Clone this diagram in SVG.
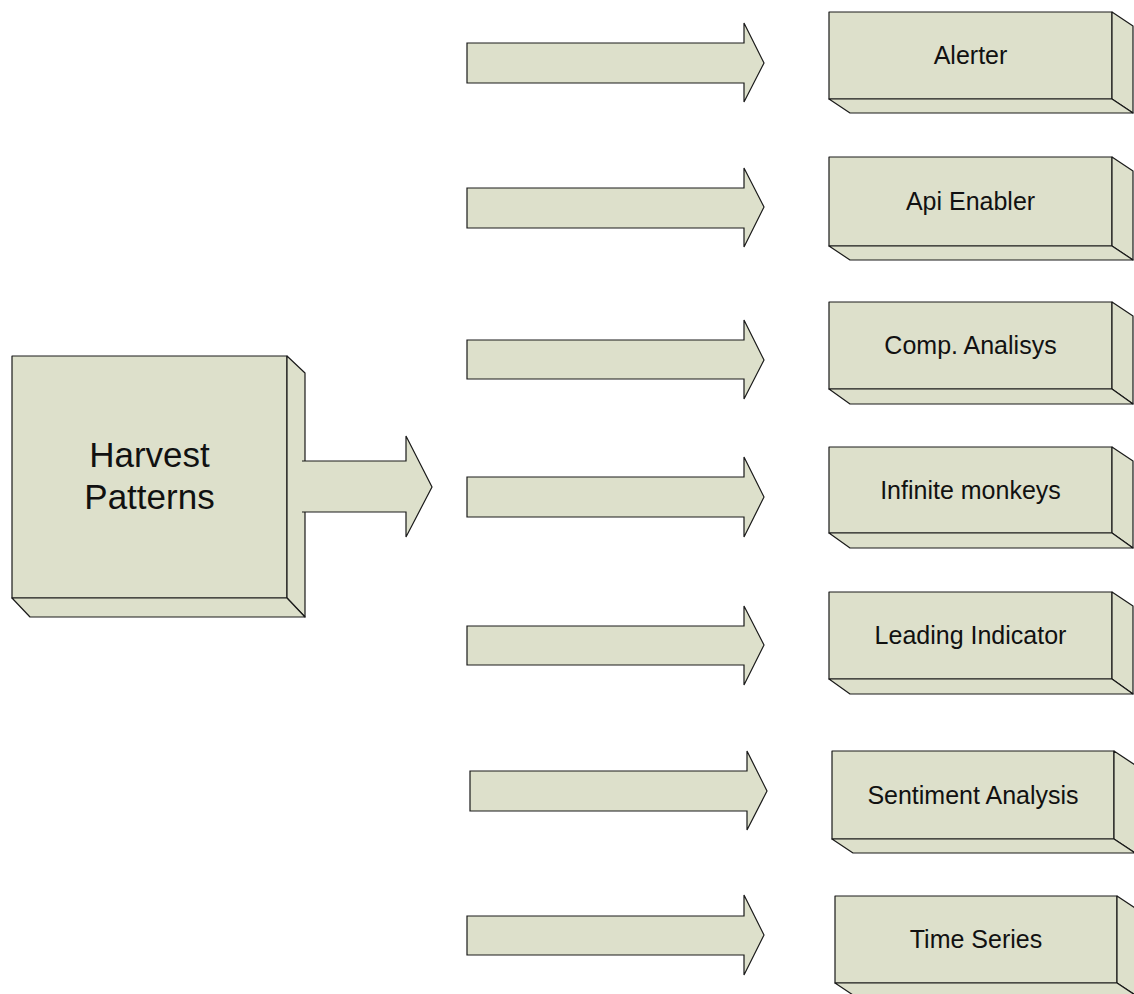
<svg xmlns="http://www.w3.org/2000/svg" width="1134" height="994" viewBox="0 0 1134 994">
  <style>
    .face { fill: #dde0cb; stroke: #1a1a1a; stroke-width: 1.2; stroke-linejoin: round; }
    .arrow { fill: #dde0cb; stroke: #1a1a1a; stroke-width: 1.2; stroke-linejoin: miter; }
    .fillonly { fill: #dde0cb; stroke: none; }
    .line { fill: none; stroke: #1a1a1a; stroke-width: 1.2; }
    .label { font-family: "Liberation Sans", Arial, sans-serif; font-size: 25px; fill: #111; text-anchor: middle; }
    .big { font-family: "Liberation Sans", Arial, sans-serif; font-size: 35px; fill: #111; text-anchor: middle; }
  </style>

  <!-- source block: extruded box -->
  <g id="harvest-patterns">
    <rect class="face" x="12" y="356" width="275" height="242"/>
    <polygon class="face" points="287,356 305,373 305,617 287,598"/>
    <polygon class="face" points="12,598 287,598 305,617 30,617"/>
    <text class="big" x="149.5" y="467">Harvest</text>
    <text class="big" x="149.5" y="509">Patterns</text>
  </g>

  <!-- block arrows -->
  <g id="connectors">
    <!-- arrow leaving the source block (left end tucked into its side face) -->
    <polygon class="fillonly" points="300,461 406,461 406,436 432,487 406,537 406,512 300,512"/>
    <path class="line" d="M302,461 H406 V436 L432,487 L406,537 V512 H302"/>

    <polygon class="arrow" points="467,43 744,43 744,23 764,63 744,102 744,83 467,83"/>
    <polygon class="arrow" points="467,188 744,188 744,168 764,207 744,247 744,228 467,228"/>
    <polygon class="arrow" points="467,340 744,340 744,320 764,360 744,399 744,379 467,379"/>
    <polygon class="arrow" points="467,477 744,477 744,457 764,497 744,537 744,517 467,517"/>
    <polygon class="arrow" points="467,626 744,626 744,606 764,645 744,685 744,665 467,665"/>
    <polygon class="arrow" points="470,771 747,771 747,751 767,791 747,830 747,811 470,811"/>
    <polygon class="arrow" points="467,916 744,916 744,895 764,935 744,975 744,955 467,955"/>
  </g>

  <!-- target blocks -->
  <g id="alerter">
    <rect class="face" x="829" y="12" width="283" height="87"/>
    <polygon class="face" points="1112,12 1133,26 1133,113 1112,99"/>
    <polygon class="face" points="829,99 1112,99 1133,113 850,113"/>
    <text class="label" x="970.5" y="64">Alerter</text>
  </g>

  <g id="api-enabler">
    <rect class="face" x="829" y="157" width="283" height="89"/>
    <polygon class="face" points="1112,157 1133,171 1133,260 1112,246"/>
    <polygon class="face" points="829,246 1112,246 1133,260 850,260"/>
    <text class="label" x="970.5" y="210">Api Enabler</text>
  </g>

  <g id="comp-analisys">
    <rect class="face" x="829" y="302" width="283" height="87"/>
    <polygon class="face" points="1112,302 1133,316 1133,404 1112,389"/>
    <polygon class="face" points="829,389 1112,389 1133,404 850,404"/>
    <text class="label" x="970.5" y="354">Comp. Analisys</text>
  </g>

  <g id="infinite-monkeys">
    <rect class="face" x="829" y="447" width="283" height="86"/>
    <polygon class="face" points="1112,447 1133,461 1133,548 1112,533"/>
    <polygon class="face" points="829,533 1112,533 1133,548 850,548"/>
    <text class="label" x="970.5" y="498.5">Infinite monkeys</text>
  </g>

  <g id="leading-indicator">
    <rect class="face" x="829" y="592" width="283" height="87"/>
    <polygon class="face" points="1112,592 1133,606 1133,694 1112,679"/>
    <polygon class="face" points="829,679 1112,679 1133,694 850,694"/>
    <text class="label" x="970.5" y="644">Leading Indicator</text>
  </g>

  <g id="sentiment-analysis">
    <rect class="face" x="832" y="751" width="282" height="88"/>
    <polygon class="face" points="1114,751 1135,765 1135,853 1114,839"/>
    <polygon class="face" points="832,839 1114,839 1135,853 853,853"/>
    <text class="label" x="973" y="803.5">Sentiment Analysis</text>
  </g>

  <g id="time-series">
    <rect class="face" x="835" y="896" width="282" height="87"/>
    <polygon class="face" points="1117,896 1138,910 1138,997 1117,983"/>
    <polygon class="face" points="835,983 1117,983 1138,997 856,997"/>
    <text class="label" x="976" y="948">Time Series</text>
  </g>
</svg>
